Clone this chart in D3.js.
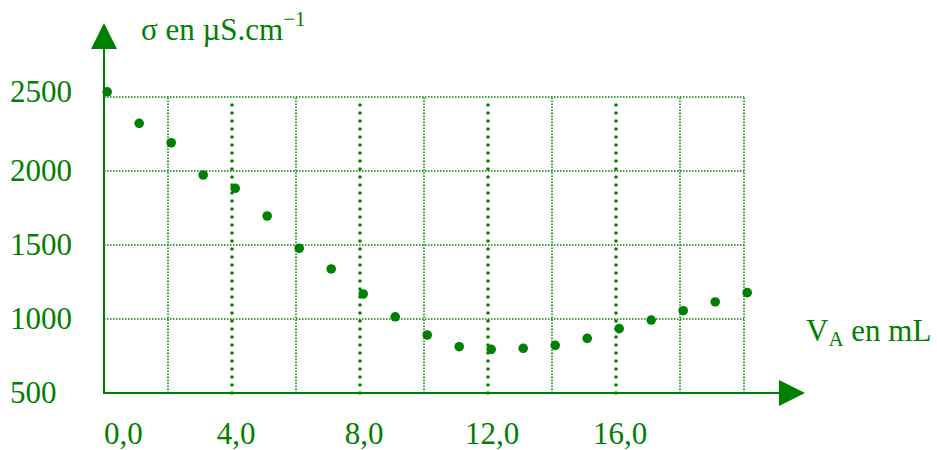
<!DOCTYPE html>
<html>
<head>
<meta charset="utf-8">
<script src="https://cdn.jsdelivr.net/npm/d3@7"></script>
<style>
  body { margin: 0; background: #fff; }
  text { font-family: "Liberation Serif", "Times New Roman", serif; fill: #008000; }
</style>
</head>
<body>
<script>
// volume added (mL) and conductivity (µS/cm)
const volumes = [0.1, 1.1, 2.1, 3.1, 4.1, 5.1, 6.1, 7.1, 8.1, 9.1, 10.1,
                 11.1, 12.1, 13.1, 14.1, 15.1, 16.1, 17.1, 18.1, 19.1, 20.1];
const sigma = [2535, 2322, 2191, 1973, 1883, 1696, 1478, 1338, 1169, 1015, 892,
               813, 795, 802, 822, 869, 935, 993, 1056, 1115, 1178];
const yTicks = [500, 1000, 1500, 2000, 2500];
const xGrid = [2, 4, 6, 8, 10, 12, 14, 16, 18, 20];
const xMajor = [4, 8, 12, 16];
const xTickLabels = [0, 4, 8, 12, 16];

const green = '#008000';
const W = 937, H = 450;

const svg = d3.select('body').append('svg')
  .attr('width', W)
  .attr('height', H);

const x = d3.scaleLinear().domain([0, 20]).range([104, 744]);
const y = d3.scaleLinear().domain([500, 2500]).range([393, 97]);

// horizontal grid
svg.append('g').selectAll('line')
  .data(yTicks.slice(1))
  .enter().append('line')
  .attr('x1', x(0)).attr('x2', x(20))
  .attr('y1', d => y(d)).attr('y2', d => y(d))
  .attr('stroke', green)
  .attr('stroke-width', 1.5)
  .attr('stroke-dasharray', '1.5,1.5');

// vertical grid, thin
svg.append('g').selectAll('line')
  .data(xGrid.filter(d => !xMajor.includes(d)))
  .enter().append('line')
  .attr('x1', d => x(d)).attr('x2', d => x(d))
  .attr('y1', y(500)).attr('y2', y(2500))
  .attr('stroke', green)
  .attr('stroke-width', 1.5)
  .attr('stroke-dasharray', '1.5,1.5');

// vertical grid, heavy dotted every 4 mL
svg.append('g').selectAll('line')
  .data(xMajor)
  .enter().append('line')
  .attr('x1', d => x(d)).attr('x2', d => x(d))
  .attr('y1', y(500)).attr('y2', y(2500))
  .attr('stroke', green)
  .attr('stroke-width', 3.6)
  .attr('stroke-linecap', 'round')
  .attr('stroke-dasharray', '0,8');

// axes with arrows
const x0 = x(0), yb = y(500);
svg.append('line')
  .attr('x1', x0).attr('x2', x0)
  .attr('y1', yb + 1).attr('y2', 45)
  .attr('stroke', green).attr('stroke-width', 2);
svg.append('path')
  .attr('d', `M${x0},23 L${x0 - 13},49 L${x0 + 13},49 Z`)
  .attr('fill', green);

svg.append('line')
  .attr('x1', x0 - 1).attr('x2', 782)
  .attr('y1', yb).attr('y2', yb)
  .attr('stroke', green).attr('stroke-width', 2);
svg.append('path')
  .attr('d', `M805,${yb} L779,${yb - 13} L779,${yb + 13} Z`)
  .attr('fill', green);

// points
svg.append('g').selectAll('circle')
  .data(volumes)
  .enter().append('circle')
  .attr('cx', d => x(d))
  .attr('cy', (d, i) => y(sigma[i]))
  .attr('r', 4.8)
  .attr('fill', green);

// y tick labels
svg.append('g').selectAll('text')
  .data(yTicks)
  .enter().append('text')
  .attr('x', 10)
  .attr('y', d => y(d) + (d === 2500 ? 5 : 10))
  .style('font-size', '31px')
  .text(d => d);

// x tick labels
svg.append('g').selectAll('text')
  .data(xTickLabels)
  .enter().append('text')
  .attr('x', d => d === 0 ? x(0) : x(d) + 4)
  .attr('y', 444)
  .attr('text-anchor', d => d === 0 ? 'start' : 'middle')
  .style('font-size', '31px')
  .text(d => d3.format('.1f')(d).replace('.', ','));

// axis titles
const yTitle = svg.append('text')
  .attr('x', 141).attr('y', 40)
  .style('font-size', '31px');
yTitle.append('tspan').text('σ en µS.cm');
yTitle.append('tspan').attr('dy', -14).style('font-size', '21px').text('−1');

const xTitle = svg.append('text')
  .attr('x', 806).attr('y', 341)
  .style('font-size', '31px');
xTitle.append('tspan').text('V');
xTitle.append('tspan').attr('dy', 5).style('font-size', '21px').text('A');
xTitle.append('tspan').attr('dy', -5).text(' en mL');
</script>
</body>
</html>
